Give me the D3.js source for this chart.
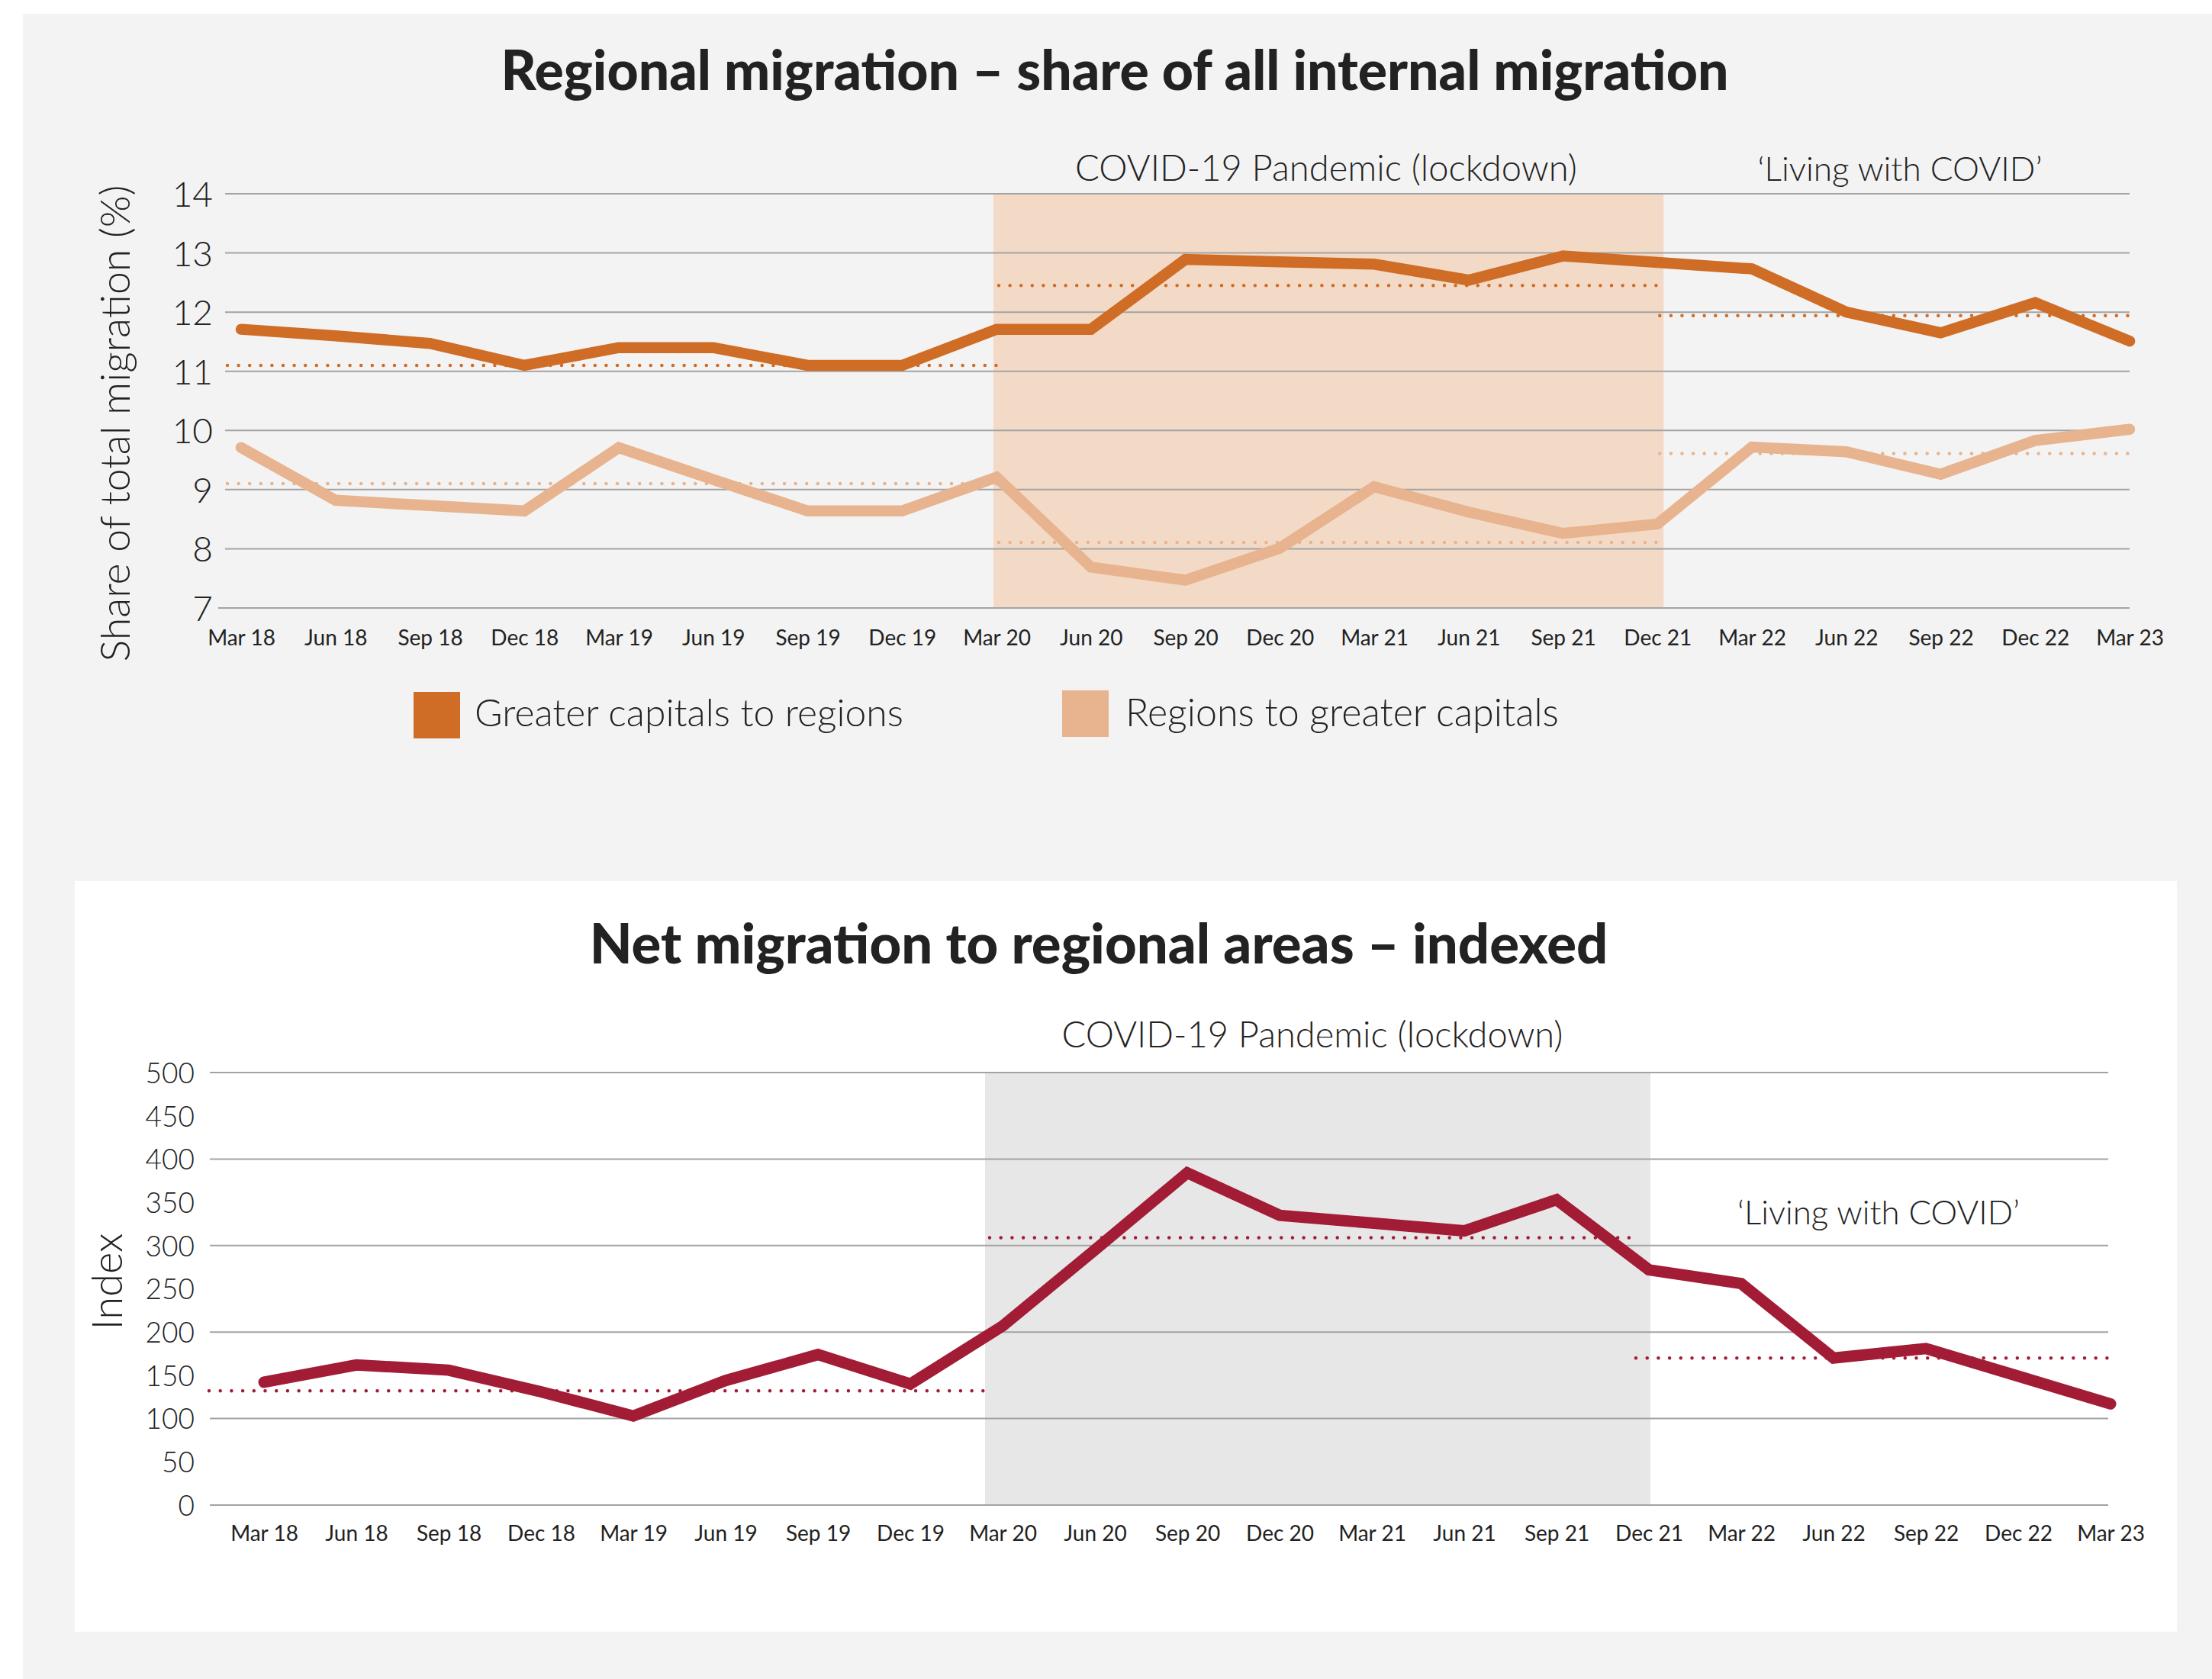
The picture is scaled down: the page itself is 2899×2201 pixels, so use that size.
<!DOCTYPE html>
<html>
<head>
<meta charset="utf-8">
<script src="https://cdn.jsdelivr.net/npm/d3@7"></script>
<style>
  html, body { margin: 0; padding: 0; background: #ffffff; }
  svg { display: block; }
  text { font-family: Lato, "Open Sans", sans-serif; fill: #222222; }
</style>
</head>
<body>
<script>
// ---------------- DATA ----------------
const quarters = ["Mar 18","Jun 18","Sep 18","Dec 18","Mar 19","Jun 19","Sep 19","Dec 19",
  "Mar 20","Jun 20","Sep 20","Dec 20","Mar 21","Jun 21","Sep 21","Dec 21",
  "Mar 22","Jun 22","Sep 22","Dec 22","Mar 23"];

// Top chart: share of all internal migration (%)
const capitalsToRegions = [11.71, 11.60, 11.47, 11.10, 11.40, 11.40, 11.10, 11.10,
  11.71, 11.71, 12.89, 12.85, 12.81, 12.54, 12.95, 12.84,
  12.73, 12.00, 11.65, 12.16, 11.51];
const regionsToCapitals = [9.71, 8.82, 8.73, 8.64, 9.71, 9.17, 8.64, 8.64,
  9.21, 7.69, 7.47, 8.01, 9.05, 8.62, 8.26, 8.42,
  9.72, 9.64, 9.26, 9.83, 10.02];
const seriesNames = ["Greater capitals to regions", "Regions to greater capitals"];
// Period averages (dotted lines)
const periodStart = ["Mar 18", "Mar 20", "Dec 21"];
const periodEnd   = ["Mar 20", "Dec 21", "Mar 23"];
const capitalsToRegionsAvg = [11.10, 12.45, 11.94];
const regionsToCapitalsAvg = [9.10, 8.11, 9.61];
const shareTicks = [7, 8, 9, 10, 11, 12, 13, 14];

// Bottom chart: net migration to regional areas, indexed
const netIndex = [142, 162, 156, 131, 103, 144, 174, 140,
  207, 295, 384, 335, 326, 317, 353, 272,
  256, 170, 181, 149, 117];
const netIndexAvg = [132, 309, 170];
const indexTicks = [0, 50, 100, 150, 200, 250, 300, 350, 400, 450, 500];
const indexGrid = [0, 100, 200, 300, 400, 500];

const lockdownLabel = "COVID-19 Pandemic (lockdown)";
const livingLabel = "\u2018Living with COVID\u2019";

// ---------------- STYLE ----------------
const C = {
  dark: "#CF6C25", light: "#E8B48F", red: "#A31C35",
  shadeTop: "#F3DAC7", shadeBottom: "#E7E7E7",
  bg: "#F3F3F3", grid: "#A3A3A3"
};

const W = 2899, H = 2201;
const svg = d3.select("body").append("svg").attr("width", W).attr("height", H);

function fit(sel, target) {
  const l = sel.node().getComputedTextLength();
  const fs = parseFloat(sel.attr("font-size"));
  sel.attr("font-size", (fs * target / l).toFixed(2));
  return sel;
}

svg.append("rect").attr("x", 0).attr("y", 0).attr("width", W).attr("height", H).attr("fill", "#ffffff");
svg.append("rect").attr("x", 30).attr("y", 18).attr("width", W - 30).attr("height", H - 18).attr("fill", C.bg);
svg.append("rect").attr("x", 98).attr("y", 1155).attr("width", 2755).attr("height", 984).attr("fill", "#ffffff");

// ================= TOP CHART =================
{
  const g = svg.append("g");
  const gridL = 295, gridR = 2791;
  const x = d3.scalePoint().domain(quarters).range([316, 2791]);
  const y = d3.scaleLinear().domain([7, 14]).range([797, 254]);

  g.append("text").attr("x", 1461).attr("y", 118).attr("text-anchor", "middle")
    .attr("font-size", 66).attr("font-weight", 900).attr("fill", "#1a1a1a")
    .text("Regional migration \u2013 share of all internal migration")
    .call(fit, 1609);

  // shaded lockdown period
  g.append("rect").attr("x", x("Mar 20") - 4).attr("y", y(14))
    .attr("width", x("Dec 21") - x("Mar 20") + 12).attr("height", y(7) - y(14))
    .attr("fill", C.shadeTop);

  // gridlines
  g.append("g").selectAll("line").data(shareTicks).join("line")
    .attr("x1", d => d === 7 ? 286 : gridL).attr("x2", gridR)
    .attr("y1", d => y(d)).attr("y2", d => y(d))
    .attr("stroke", C.grid).attr("stroke-width", 2);

  // y axis labels
  const yAxis = d3.axisLeft(y).tickValues(shareTicks).tickFormat(d3.format("d")).tickSize(0).tickPadding(0);
  const ya = g.append("g").attr("transform", "translate(279,0)").call(yAxis);
  ya.select(".domain").remove();
  ya.selectAll("text").attr("font-size", 46).attr("font-weight", 300)
    .attr("font-family", "Lato, sans-serif").attr("fill", "#222").attr("dy", "0.36em");

  // x axis labels
  const xAxis = d3.axisBottom(x).tickSize(0).tickPadding(0);
  const xa = g.append("g").attr("transform", "translate(0,824)").call(xAxis);
  xa.select(".domain").remove();
  xa.selectAll("text").attr("font-size", 28).attr("font-weight", 400).attr("font-family", "Lato, sans-serif")
    .attr("fill", "#222").attr("dy", "0.78em");

  // y axis title
  g.append("text").attr("transform", "translate(170,555) rotate(-90)")
    .attr("text-anchor", "middle").attr("font-size", 50).attr("font-weight", 300)
    .text("Share of total migration (%)").call(fit, 625);

  // annotations
  g.append("text").attr("x", 1738).attr("y", 237).attr("text-anchor", "middle")
    .attr("font-size", 42).attr("font-weight", 300).text(lockdownLabel).call(fit, 658);
  g.append("text").attr("x", 2490).attr("y", 237).attr("text-anchor", "middle")
    .attr("font-size", 42).attr("font-weight", 300).text(livingLabel).call(fit, 373);

  // average dotted lines
  const avgX1 = (i) => i === 0 ? gridL : x(periodStart[i]);
  const avgX2 = (i) => i === periodEnd.length - 1 ? gridR : x(periodEnd[i]);
  [[capitalsToRegionsAvg, C.dark], [regionsToCapitalsAvg, C.light]].forEach(([arr, col]) => {
    g.append("g").selectAll("line").data(arr).join("line")
      .attr("x1", (d, i) => avgX1(i) + 3).attr("x2", (d, i) => avgX2(i))
      .attr("y1", d => y(d)).attr("y2", d => y(d))
      .attr("stroke", col).attr("stroke-width", 4.5)
      .attr("stroke-linecap", "round").attr("stroke-dasharray", "0 14.6");
  });

  // lines
  const line = d3.line().x((d, i) => x(quarters[i])).y(d => y(d));
  g.append("path").datum(regionsToCapitals).attr("d", line)
    .attr("fill", "none").attr("stroke", C.light).attr("stroke-width", 14.5)
    .attr("stroke-linecap", "round").attr("stroke-linejoin", "miter");
  g.append("path").datum(capitalsToRegions).attr("d", line)
    .attr("fill", "none").attr("stroke", C.dark).attr("stroke-width", 14.5)
    .attr("stroke-linecap", "round").attr("stroke-linejoin", "miter");

  // legend
  const leg = [
    { name: seriesNames[0], col: C.dark, x: 542, y: 907, tx: 622, w: 562 },
    { name: seriesNames[1], col: C.light, x: 1392, y: 905, tx: 1475, w: 568 }
  ];
  leg.forEach(l => {
    g.append("rect").attr("x", l.x).attr("y", l.y).attr("width", 61).attr("height", 61).attr("fill", l.col);
    g.append("text").attr("x", l.tx).attr("y", 952).attr("font-size", 43).attr("font-weight", 300)
      .text(l.name).call(fit, l.w);
  });
}

// ================= BOTTOM CHART =================
{
  const g = svg.append("g");
  const gridL = 275, gridR = 2763;
  const x = d3.scalePoint().domain(quarters).range([346, 2766]);
  const y = d3.scaleLinear().domain([0, 500]).range([1973, 1406]);

  g.append("text").attr("x", 1440).attr("y", 1263).attr("text-anchor", "middle")
    .attr("font-size", 66).attr("font-weight", 900).attr("fill", "#1a1a1a")
    .text("Net migration to regional areas \u2013 indexed").call(fit, 1335);

  g.append("rect").attr("x", x("Mar 20") - 23).attr("y", y(500))
    .attr("width", x("Dec 21") - x("Mar 20") + 25).attr("height", y(0) - y(500))
    .attr("fill", C.shadeBottom);

  g.append("g").selectAll("line").data(indexGrid).join("line")
    .attr("x1", gridL).attr("x2", gridR)
    .attr("y1", d => y(d)).attr("y2", d => y(d))
    .attr("stroke", C.grid).attr("stroke-width", 2);

  const yAxis = d3.axisLeft(y).tickValues(indexTicks).tickFormat(d3.format("d")).tickSize(0).tickPadding(0);
  const ya = g.append("g").attr("transform", "translate(255,0)").call(yAxis);
  ya.select(".domain").remove();
  ya.selectAll("text").attr("font-size", 37).attr("font-weight", 300)
    .attr("font-family", "Lato, sans-serif").attr("fill", "#222").attr("dy", "0.36em");

  const xAxis = d3.axisBottom(x).tickSize(0).tickPadding(0);
  const xa = g.append("g").attr("transform", "translate(0,1998)").call(xAxis);
  xa.select(".domain").remove();
  xa.selectAll("text").attr("font-size", 28).attr("font-weight", 400).attr("font-family", "Lato, sans-serif")
    .attr("fill", "#222").attr("dy", "0.78em");

  g.append("text").attr("transform", "translate(160,1680) rotate(-90)")
    .attr("text-anchor", "middle").attr("font-size", 46).attr("font-weight", 300)
    .text("Index").call(fit, 127);

  g.append("text").attr("x", 1720).attr("y", 1373).attr("text-anchor", "middle")
    .attr("font-size", 42).attr("font-weight", 300).text(lockdownLabel).call(fit, 657);
  g.append("text").attr("x", 2462).attr("y", 1605).attr("text-anchor", "middle")
    .attr("font-size", 42).attr("font-weight", 300).text(livingLabel).call(fit, 370);

  const avgX1 = (i) => i === 0 ? gridL - 4 : x(periodStart[i]) - 20;
  const avgX2 = (i) => i === periodEnd.length - 1 ? gridR : x(periodEnd[i]) - 24;
  g.append("g").selectAll("line").data(netIndexAvg).join("line")
    .attr("x1", (d, i) => avgX1(i) + 3).attr("x2", (d, i) => avgX2(i))
    .attr("y1", d => y(d)).attr("y2", d => y(d))
    .attr("stroke", C.red).attr("stroke-width", 4.5)
    .attr("stroke-linecap", "round").attr("stroke-dasharray", "0 14.7");

  const line = d3.line().x((d, i) => x(quarters[i])).y(d => y(d));
  g.append("path").datum(netIndex).attr("d", line)
    .attr("fill", "none").attr("stroke", C.red).attr("stroke-width", 15)
    .attr("stroke-linecap", "round").attr("stroke-linejoin", "miter");
}
</script>
</body>
</html>
